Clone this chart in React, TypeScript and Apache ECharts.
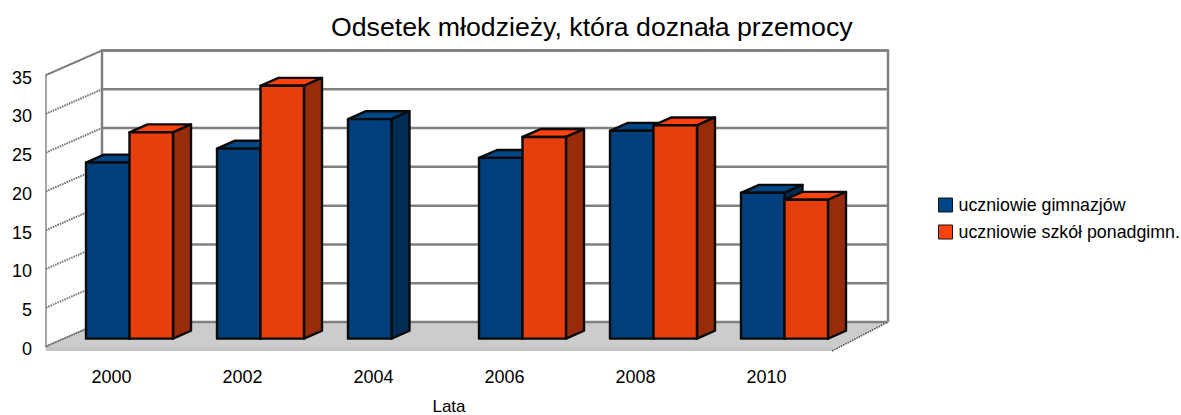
import React, { useEffect, useRef } from "react";
import * as echarts from "echarts";

const years = ["2000", "2002", "2004", "2006", "2008", "2010"];
const gimnazja = [22.7, 24.5, 28.3, 23.3, 26.8, 18.8];
const ponadgimn: (number | null)[] = [26.6, 32.6, null, 26.0, 27.5, 17.9];
const ticks = [0, 5, 10, 15, 20, 25, 30, 35];
const nameA = "uczniowie gimnazjów";
const nameB = "uczniowie szkół ponadgimn.";
const titleText = "Odsetek młodzieży, która doznała przemocy";

const DX = 56;
const DY = -24.5;
const NEAR = 18 / 56;
const FAR = 36 / 56;
const BAR = 0.332;

const pt = (p: number[], d: number) => [p[0] + DX * d, p[1] + DY * d];

const bars = (shift: number, front: string, top: string, side: string) => (_: any, api: any) => {
  const i = api.value(0);
  const v = api.value(1);
  const w = api.size([1, 0])[0] * BAR;
  const c = api.coord([i, v]);
  const b = api.coord([i, 0]);
  const x0 = c[0] + shift * w;
  const x1 = x0 + w;
  const tl = [x0, c[1]], tr = [x1, c[1]], br = [x1, b[1]], bl = [x0, b[1]];
  const line = { stroke: "#0a0a0a", lineWidth: 2.4, lineJoin: "round" };
  const poly = (pts: number[][], fill: string) => ({
    type: "polygon",
    shape: { points: pts },
    style: { fill, ...line },
  });
  return {
    type: "group",
    children: [
      poly([pt(tl, NEAR), pt(tr, NEAR), pt(tr, FAR), pt(tl, FAR)], top),
      poly([pt(tr, NEAR), pt(br, NEAR), pt(br, FAR), pt(tr, FAR)], side),
      poly([pt(tl, NEAR), pt(tr, NEAR), pt(br, NEAR), pt(bl, NEAR)], front),
    ],
  };
};

const walls = (params: any, api: any) => {
  const r = params.coordSys;
  const bottom = r.y + r.height;
  const right = r.x + r.width;
  return {
    type: "group",
    children: [
      {
        type: "polygon",
        shape: { points: [[r.x, r.y], [r.x + DX, r.y + DY], [r.x + DX, bottom + DY], [r.x, bottom]] },
        style: { fill: "#ffffff", stroke: "#8a8a8a", lineWidth: 1.5 },
      },
      {
        type: "polygon",
        shape: { points: [[r.x, bottom], [r.x + DX, bottom + DY], [right + DX, bottom + DY], [right, bottom + 4.5], [r.x, bottom + 4.5]] },
        style: { fill: "#cccccc" },
      },
      {
        type: "rect",
        shape: { x: r.x, y: bottom, width: r.width, height: 4.5 },
        style: { fill: "#c4c4c4" },
      },
      {
        type: "polyline",
        shape: { points: [[r.x + DX, bottom + DY], [r.x + DX, r.y + DY], [right + DX, r.y + DY], [right + DX, bottom + DY]] },
        style: { fill: "none", stroke: "#808080", lineWidth: 2.5 },
      },
      {
        type: "line",
        shape: { x1: right, y1: bottom + 4.5, x2: right + DX, y2: bottom + DY },
        style: { stroke: "#505050", lineWidth: 1.6, lineDash: [1.5, 1] },
      },
    ],
  };
};

const gridLine = (params: any, api: any) => {
  const r = params.coordSys;
  const y = api.coord([0, api.value(0)])[1];
  const a = [r.x, y];
  const b = pt(a, 1);
  const c = [r.x + r.width + DX, b[1]];
  return {
    type: "group",
    children: [
      { type: "line", shape: { x1: a[0], y1: a[1], x2: b[0], y2: b[1] }, style: { stroke: "#707070", lineWidth: 2, lineDash: [1.5, 1] } },
      { type: "line", shape: { x1: b[0], y1: b[1], x2: c[0], y2: c[1] }, style: { stroke: "#808080", lineWidth: 2.5 } },
    ],
  };
};

export default function App() {
  const ref = useRef<HTMLDivElement>(null);
  useEffect(() => {
    document.body.style.margin = "0";
    const chart = echarts.init(ref.current!, undefined, { renderer: "svg" });
    const font = "'Liberation Sans', Arial, sans-serif";
    chart.setOption({
      animation: false,
      backgroundColor: "#ffffff",
      textStyle: { fontFamily: font },
      title: {
        text: titleText,
        left: 331,
        top: 13,
        padding: 0,
        textStyle: { fontFamily: font, fontSize: 26.7, fontWeight: "normal", color: "#000000" },
      },
      legend: {
        data: [nameA, nameB],
        orient: "vertical",
        left: 938,
        top: 196,
        padding: 0,
        itemWidth: 14,
        itemHeight: 14,
        itemGap: 9,
        icon: "rect",
        selectedMode: false,
        itemStyle: { borderColor: "#111111", borderWidth: 1 },
        textStyle: { fontFamily: font, fontSize: 17.8, color: "#000000", padding: [0, 0, 0, 1] },
      },
      grid: { left: 46, top: 75, width: 786, height: 271.5, outerBoundsMode: "none", containLabel: false },
      xAxis: {
        type: "category",
        data: years,
        name: "Lata",
        nameLocation: "middle",
        nameGap: 51,
        nameTextStyle: { fontFamily: font, fontSize: 17, color: "#000000", padding: [0, 0, 0, 20] },
        axisLine: { show: false },
        axisTick: { show: false },
        axisLabel: { margin: 21, fontFamily: font, fontSize: 18, color: "#000000" },
      },
      yAxis: {
        type: "value",
        min: 0,
        max: 35,
        interval: 5,
        axisLine: { show: false },
        axisTick: { show: false },
        splitLine: { show: false },
        axisLabel: { margin: 14, fontFamily: font, fontSize: 18, color: "#000000", verticalAlign: "top", lineHeight: 5 },
      },
      series: [
        { type: "custom", silent: true, renderItem: walls, data: [[0]], encode: { x: 0 }, z: 1 },
        { type: "custom", silent: true, renderItem: gridLine, data: ticks.map((t) => [t]), encode: { y: 0 }, z: 2 },
        {
          type: "custom",
          name: nameA,
          silent: true,
          z: 3,
          itemStyle: { color: "#004586" },
          renderItem: bars(-1, "#003f7b", "#004586", "#002c55"),
          encode: { x: 0, y: 1 },
          data: gimnazja.map((v, i) => [i, v]),
        },
        {
          type: "custom",
          name: nameB,
          silent: true,
          z: 4,
          itemStyle: { color: "#ff420e" },
          renderItem: bars(0, "#e63e0d", "#ff420e", "#982b09"),
          encode: { x: 0, y: 1 },
          data: ponadgimn.map((v, i) => (v == null ? null : [i, v])).filter(Boolean),
        },
      ],
    });
    return () => chart.dispose();
  }, []);
  return <div ref={ref} style={{ width: 1181, height: 415 }} />;
}
